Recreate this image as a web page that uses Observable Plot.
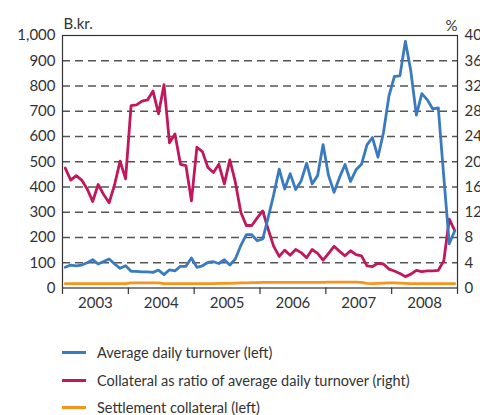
<!DOCTYPE html>
<html>
<head>
<meta charset="utf-8">
<script src="https://cdn.jsdelivr.net/npm/d3@7"></script>
<script src="https://cdn.jsdelivr.net/npm/@observablehq/plot@0.6"></script>
<style>
  body { margin: 0; background: #fff; font-family: Lato, sans-serif; color: #333; }
  #chart svg { display: block; }
  .legend { padding-left: 62px; margin-top: 19px; }
  .legend .row { height: 27.5px; display: flex; align-items: center; font-size: 14.5px; color: #333; }
  .legend .sw { width: 24px; height: 3px; margin-right: 11px; flex: none; }
</style>
</head>
<body>
<div id="chart"></div>
<div class="legend" id="legend"></div>
<script>
const years = ["2003", "2004", "2005", "2006", "2007", "2008"];

// Average daily turnover, B.kr. (left axis), monthly Jan 2003 – Dec 2008
const turnover = [
  82, 91, 88, 91, 100, 112, 95, 105, 115, 95, 78, 88,
  66, 66, 64, 64, 62, 71, 53, 72, 68, 86, 86, 119,
  82, 88, 101, 104, 97, 112, 91, 115, 168, 211, 211, 187,
  194, 280, 370, 471, 392, 453, 390, 424, 494, 412, 445, 568,
  445, 379, 438, 489, 422, 468, 490, 567, 596, 518, 615, 760,
  838, 840, 977, 858, 685, 770, 745, 709, 713, 440, 175, 227
];

// Collateral as ratio of average daily turnover, % (right axis)
const ratio = [
  19.0, 17.1, 17.8, 17.1, 15.7, 13.7, 16.4, 14.8, 13.5, 16.4, 20.1, 17.3,
  28.9, 29.0, 29.6, 29.8, 31.2, 27.6, 32.2, 23.0, 24.4, 19.6, 19.4, 13.8,
  22.3, 21.6, 19.1, 18.3, 19.6, 16.5, 20.3, 16.8, 12.0, 9.9, 9.9, 11.1,
  12.2, 9.3, 6.6, 5.0, 6.0, 5.2, 6.1, 5.6, 4.8, 6.1, 5.5, 4.4,
  5.5, 6.6, 5.8, 5.1, 5.9, 5.3, 5.1, 3.5, 3.4, 3.9, 3.8, 3.0,
  2.7, 2.3, 1.8, 2.2, 2.8, 2.6, 2.7, 2.7, 2.8, 4.3, 10.9, 9.1
];

// Settlement collateral, B.kr. (left axis)
const settlement = [
  17, 17, 17, 17, 17, 17, 17, 17, 17, 17, 17, 17,
  20, 20, 20, 20, 20, 20, 17, 17, 17, 17, 17, 17,
  17, 17, 17, 17, 18, 18, 18, 19, 20, 20, 21, 21,
  22, 22, 22, 22, 22, 22, 22, 22, 22, 22, 22, 22,
  23, 23, 23, 23, 23, 23, 22, 18, 17, 18, 19, 20,
  20, 19, 18, 17, 17, 17, 17, 17, 17, 17, 17, 17
];

const leftTicks = [0, 100, 200, 300, 400, 500, 600, 700, 800, 900, 1000];
const gridTicks = [100, 200, 300, 400, 500, 600, 700, 800, 900];
const rightMax = 40; // % at top of right axis
const leftMax = 1000;

const seriesNames = [
  "Average daily turnover (left)",
  "Collateral as ratio of average daily turnover (right)",
  "Settlement collateral (left)"
];
const colors = ["#3a7bbf", "#c0175d", "#f7941d"];

const k = leftMax / rightMax;
const rows = turnover.map((v, i) => ({i: i + 0.5, turnover: v, ratio: ratio[i], settlement: settlement[i]}));
const yearBounds = d3.range(0, years.length * 12 + 1, 12);
const yearMids = years.map((y, j) => j * 12 + 6);

const chart = Plot.plot({
  width: 480,
  height: 320,
  marginTop: 35,
  marginBottom: 32.5,
  marginLeft: 62,
  marginRight: 23,
  style: {fontFamily: "Lato, sans-serif", fontSize: "15px", color: "#333", background: "#fff"},
  x: {domain: [0, years.length * 12]},
  y: {domain: [0, leftMax]},
  marks: [
    Plot.gridY(gridTicks, {stroke: "#555", strokeOpacity: 1, strokeWidth: 1.3, strokeDasharray: "8,5"}),
    Plot.line(rows, {x: "i", y: "settlement", stroke: colors[2], strokeWidth: 2.8}),
    Plot.line(rows, {x: "i", y: d => d.ratio * k, stroke: colors[1], strokeWidth: 2.8}),
    Plot.line(rows, {x: "i", y: "turnover", stroke: colors[0], strokeWidth: 2.8}),
    Plot.frame({stroke: "#333", strokeWidth: 1.2}),
    Plot.axisY({anchor: "left", ticks: leftTicks, tickSize: 0, tickPadding: 7, tickFormat: d3.format(","), label: null}),
    Plot.axisY({anchor: "right", ticks: leftTicks, tickSize: 0, tickPadding: 7, tickFormat: d => String(d / k), label: null}),
    Plot.axisX({ticks: yearBounds, tickSize: 6.5, tickFormat: () => "", stroke: "#333", strokeWidth: 1.2, label: null}),
    Plot.axisX({ticks: yearMids, tickSize: 0, tickPadding: 9, tickFormat: d => years[(d - 6) / 12], label: null}),
    Plot.text(["B.kr."], {frameAnchor: "top-left", textAnchor: "start", dx: 1, dy: -17, fill: "#333"}),
    Plot.text(["%"], {frameAnchor: "top-right", textAnchor: "end", dy: -15, fill: "#333"})
  ]
});
document.getElementById("chart").appendChild(chart);

const legend = document.getElementById("legend");
seriesNames.forEach((name, j) => {
  const row = document.createElement("div");
  row.className = "row";
  const sw = document.createElement("span");
  sw.className = "sw";
  sw.style.background = colors[j];
  const t = document.createElement("span");
  t.textContent = name;
  row.appendChild(sw);
  row.appendChild(t);
  legend.appendChild(row);
});
</script>
</body>
</html>
